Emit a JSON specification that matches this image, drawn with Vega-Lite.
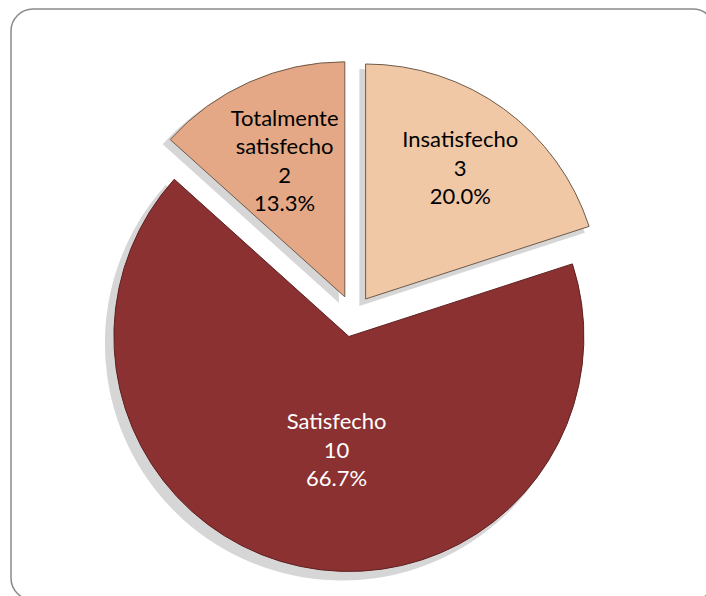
{
  "$schema": "https://vega.github.io/schema/vega-lite/v6.json",
  "width": 704,
  "height": 591,
  "autosize": {"type": "none"},
  "padding": {"left": 11, "top": 9, "right": -9, "bottom": -4},
  "background": "white",
  "view": {"stroke": "#8a8a8a", "strokeWidth": 1.5, "cornerRadius": 22, "fill": "white"},
  "data": {
    "values": [
      {"cat": "Insatisfecho", "n": 3, "label": ["Insatisfecho", "3", "20.0%"]},
      {"cat": "Satisfecho", "n": 10, "label": ["Satisfecho", "10", "66.7%"]},
      {"cat": "Totalmente satisfecho", "n": 2, "label": ["Totalmente", "satisfecho", "2", "13.3%"]}
    ]
  },
  "encoding": {
    "theta": {"field": "n", "type": "quantitative", "stack": true, "scale": {"domain": [0, 15]}},
    "order": {"field": "cat", "sort": "ascending"}
  },
  "layer": [
    {
      "mark": {"type": "arc", "radius": 237, "xOffset": -3.6, "yOffset": 1.5, "fill": "#d6d6d6"},
      "encoding": {"opacity": {"condition": {"test": "datum.cat === 'Insatisfecho'", "value": 1}, "value": 0}}
    },
    {
      "mark": {"type": "arc", "radius": 237, "xOffset": -21.1, "yOffset": 39, "fill": "#d6d6d6"},
      "encoding": {"opacity": {"condition": {"test": "datum.cat === 'Satisfecho'", "value": 1}, "value": 0}}
    },
    {
      "mark": {"type": "arc", "radius": 237, "xOffset": -24.2, "yOffset": -1.7, "fill": "#d6d6d6"},
      "encoding": {"opacity": {"condition": {"test": "datum.cat === 'Totalmente satisfecho'", "value": 1}, "value": 0}}
    },
    {
      "mark": {"type": "arc", "radius": 235, "xOffset": 2.6, "yOffset": -5.5, "stroke": "#6e5a4a", "strokeWidth": 1},
      "encoding": {
        "color": {"field": "cat", "type": "nominal", "legend": null, "scale": {"domain": ["Insatisfecho", "Satisfecho", "Totalmente satisfecho"], "range": ["#f0c8a6", "#8c3131", "#e4a886"]}},
        "opacity": {"condition": {"test": "datum.cat === 'Insatisfecho'", "value": 1}, "value": 0}
      }
    },
    {
      "mark": {"type": "arc", "radius": 235, "xOffset": -14.1, "yOffset": 32, "stroke": "#5e2020", "strokeWidth": 1},
      "encoding": {
        "color": {"field": "cat", "type": "nominal", "legend": null},
        "opacity": {"condition": {"test": "datum.cat === 'Satisfecho'", "value": 1}, "value": 0}
      }
    },
    {
      "mark": {"type": "arc", "radius": 235, "xOffset": -18.2, "yOffset": -7.7, "stroke": "#6e5a4a", "strokeWidth": 1},
      "encoding": {
        "color": {"field": "cat", "type": "nominal", "legend": null},
        "opacity": {"condition": {"test": "datum.cat === 'Totalmente satisfecho'", "value": 1}, "value": 0}
      }
    },
    {
      "mark": {"type": "text", "radius": 161, "xOffset": 2.6, "yOffset": -5.5, "dy": -28.5, "font": "Lato", "fontSize": 22, "lineHeight": 28.5, "align": "center", "baseline": "middle", "fill": "black"},
      "encoding": {
        "text": {"field": "label"},
        "opacity": {"condition": {"test": "datum.cat === 'Insatisfecho'", "value": 1}, "value": 0}
      }
    },
    {
      "mark": {"type": "text", "radius": 117, "xOffset": -14.1, "yOffset": 32, "dx": 12, "dy": -28.5, "font": "Lato", "fontSize": 22, "lineHeight": 28.5, "align": "center", "baseline": "middle", "fill": "white"},
      "encoding": {
        "text": {"field": "label"},
        "opacity": {"condition": {"test": "datum.cat === 'Satisfecho'", "value": 1}, "value": 0}
      }
    },
    {
      "mark": {"type": "text", "radius": 148, "xOffset": -18.2, "yOffset": -7.7, "dy": -42.75, "font": "Lato", "fontSize": 22, "lineHeight": 28.5, "align": "center", "baseline": "middle", "fill": "black"},
      "encoding": {
        "text": {"field": "label"},
        "opacity": {"condition": {"test": "datum.cat === 'Totalmente satisfecho'", "value": 1}, "value": 0}
      }
    }
  ]
}
